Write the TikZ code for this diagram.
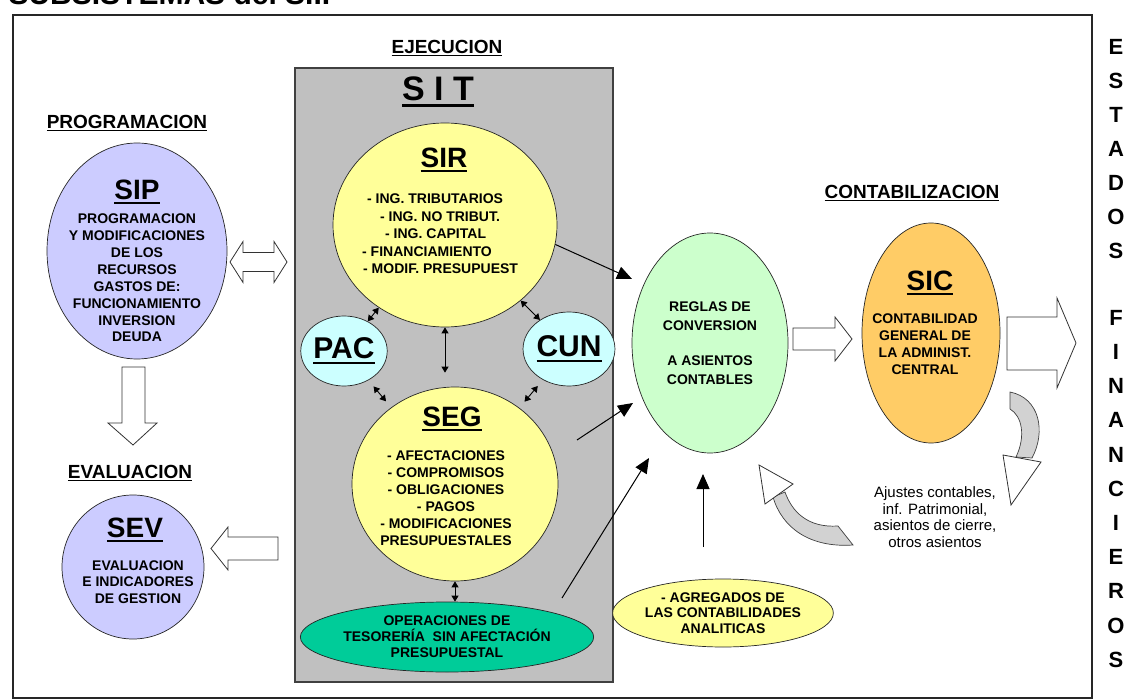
\documentclass[tikz,border=0pt]{standalone}
\usepackage{fontspec}
\setmainfont{Liberation Sans}
\usepackage{tikz}
\usetikzlibrary{shapes.geometric, arrows.meta, positioning}
\definecolor{sipBlue}{RGB}{204,204,255}
\definecolor{sirYellow}{RGB}{255,255,153}
\definecolor{pacCyan}{RGB}{204,255,255}
\definecolor{regGreen}{RGB}{204,255,204}
\definecolor{sicOrange}{RGB}{255,204,102}
\definecolor{operGreen}{RGB}{0,204,153}
\definecolor{sitGray}{RGB}{192,192,192}
\newcommand{\fsz}[2]{\fontsize{#1}{#2}\selectfont}
\newcommand{\ulx}[1]{\leavevmode\setbox0=\hbox{#1}\rlap{\rule[-0.17em]{\wd0}{0.08em}}\box0}

\begin{document}
\begin{tikzpicture}[
    x=1pt, y=-1pt,
    sub/.style={ellipse, draw=black!85, line width=0.7pt, inner sep=0pt},
    ttl/.style={font=\bfseries\fsz{28}{30}},
    txt/.style={font=\bfseries\fsz{14}{17}, align=center},
    head/.style={font=\bfseries\fsz{19}{21}},
    dbl/.style={{Triangle[length=6pt,width=7pt]}-{Triangle[length=6pt,width=7pt]}, line width=0.9pt},
    big/.style={-{Triangle[length=15pt,width=13pt]}, line width=1pt},
    hollow/.style={draw=black!80, fill=white, line width=0.8pt, line join=miter},
    curv/.style={draw=black!75, fill=gray!35, line width=0.7pt}
]
    \useasboundingbox (0,0) rectangle (1129,700);
    \node[font=\bfseries\fsz{30}{32}, anchor=base west] (title) at (5,5) {SUBSISTEMAS del SIIF};
    \draw[line width=1.6pt, black!85] (13,15) rectangle (1092,698);

    % headings
    \node[head] (prog) at (127,123) {\ulx{PROGRAMACION}};
    \node[head] (eval) at (130,473) {\ulx{EVALUACION}};
    \node[head] (ejec) at (447,48) {\ulx{EJECUCION}};
    \node[head] (cont) at (912,193) {\ulx{CONTABILIZACION}};

    % SIT
    \node[draw=black!75, fill=sitGray, line width=1.3pt, minimum width=318pt, minimum height=614pt, inner sep=0pt] (sit) at (454,375) {};
    \node[font=\bfseries\fsz{34}{36}] (sitT) at (438,92) {\ulx{S I T}};

    \node[sub, fill=sirYellow, minimum width=224pt, minimum height=204pt] (sir) at (445,225) {};
    \node[ttl] (sirT) at (444,160) {\ulx{SIR}};
    \node[font=\bfseries\fsz{14}{17.5}, align=left, anchor=west, inner sep=0pt] (sirL) at (362,234)
        {\hspace*{5pt}- ING. TRIBUTARIOS\\\hspace*{18pt}- ING. NO TRIBUT.\\\hspace*{23pt}- ING. CAPITAL\\- FINANCIAMIENTO\\\hspace*{1pt}- MODIF. PRESUPUEST};

    \node[sub, fill=pacCyan, minimum width=76pt, minimum height=70pt, font=\bfseries\fsz{30}{32}] (pac) at (344,351) {\ulx{PAC}};
    \node[sub, fill=pacCyan, minimum width=82pt, minimum height=74pt, font=\bfseries\fsz{30}{32}] (cun) at (569,349) {\ulx{CUN}};

    \node[sub, fill=sirYellow, minimum width=206pt, minimum height=194pt] (seg) at (455,484) {};
    \node[ttl] (segT) at (452,419) {\ulx{SEG}};
    \node[txt] (segL) at (446,498) {- AFECTACIONES\\- COMPROMISOS\\- OBLIGACIONES\\- PAGOS\\- MODIFICACIONES\\PRESUPUESTALES};

    \node[sub, txt, fill=operGreen, minimum width=232pt, minimum height=70pt, font=\bfseries\fsz{14}{16}] (oper) at (447,637)
        {OPERACIONES DE\\TESORERÍA\ \ SIN AFECTACIÓN\\PRESUPUESTAL};

    \draw[dbl] (sir) -- (pac);
    \draw[dbl] (sir) -- (cun);
    \draw[dbl, shorten <=8pt, shorten >=8pt] (seg) -- (pac);
    \draw[dbl, shorten <=8pt, shorten >=8pt] (seg) -- (cun);
    \draw[dbl, shorten >=14pt] (sir.south) -- (sir.south |- seg.north);
    \draw[dbl] (seg.south) -- (seg.south |- oper.north);

    % SIP / SEV
    \node[sub, fill=sipBlue, minimum width=180pt, minimum height=216pt] (sip) at (137,251) {};
    \node[ttl] (sipT) at (137,192) {\ulx{SIP}};
    \node[txt, font=\bfseries\fsz{14}{16.9}] (sipL) at (137,278) {PROGRAMACION\\Y MODIFICACIONES\\DE LOS\\RECURSOS\\GASTOS DE:\\FUNCIONAMIENTO\\INVERSION\\DEUDA};

    \node[sub, fill=sipBlue, minimum width=142pt, minimum height=144pt] (sev) at (133,567) {};
    \node[ttl] (sevT) at (135,530) {\ulx{SEV}};
    \node[txt, font=\bfseries\fsz{14}{16.5}] (sevL) at (138,582) {EVALUACION\\E INDICADORES\\DE GESTION};

    \draw[hollow] (230,262) -- (243,241.5) -- (243,252.5) -- (274,252.5) -- (274,241.5) -- (287,262)
        -- (274,282.5) -- (274,271.5) -- (243,271.5) -- (243,282.5) -- cycle;
    \draw[hollow] (122,367) -- (145,367) -- (145,423) -- (157,423) -- (133,445) -- (108,423) -- (122,423) -- cycle;
    \draw[hollow] (278,537) -- (228,537) -- (228,527) -- (211,548.5) -- (228,570) -- (228,560) -- (278,560) -- cycle;

    % contabilizacion
    \node[sub, txt, fill=regGreen, minimum width=156pt, minimum height=220pt, font=\bfseries\fsz{14}{18.5}] (reg) at (710,343)
        {REGLAS DE\\CONVERSION\\[17pt]A ASIENTOS\\CONTABLES};
    \node[sub, txt, fill=sirYellow, minimum width=204pt, minimum height=68pt, font=\bfseries\fsz{14}{15.5}] (agr) at (723,613)
        {- AGREGADOS DE\\LAS CONTABILIDADES\\ANALITICAS};

    \node[sub, fill=sicOrange, minimum width=138pt, minimum height=220pt] (sic) at (931,333) {};
    \node[ttl] (sicT) at (930,283) {\ulx{SIC}};
    \node[txt] (sicL) at (925,344) {CONTABILIDAD\\GENERAL DE\\LA ADMINIST.\\CENTRAL};

    \node[font=\fsz{15}{16.7}, align=center] (ajus) at (935,517) {Ajustes contables,\\inf. Patrimonial,\\asientos de cierre,\\otros asientos};

    \coordinate (r1) at (632,279);
    \coordinate (r2) at (633,403);
    \coordinate (r3) at (649,458);
    \coordinate (r4) at (703,474);
    \coordinate (s2) at (577,440);
    \coordinate (s3) at (562,598);
    \coordinate (a4) at (703,547);
    \draw[big] (sir.-10) -- (r1);
    \draw[big] (s2) -- (r2);
    \draw[big] (s3) -- (r3);
    \draw[big] (a4) -- (r4);

    \draw[hollow] (793,328) -- (835,328) -- (835,317) -- (852,339) -- (835,361) -- (835,350) -- (793,350) -- cycle;
    \draw[hollow] (1007,317) -- (1057,317) -- (1057,298) -- (1076,343) -- (1057,388) -- (1057,370) -- (1007,370) -- cycle;

    % curved arrows
    \draw[curv] (1010,392) .. controls (1040,398) and (1046,432) .. (1032,458) -- (1016,457)
        .. controls (1026,436) and (1022,416) .. (1010,409) -- cycle;
    \draw[hollow] (1041,462) -- (1011,505) -- (1003,455) -- cycle;
    \draw[curv] (853,545) -- (838,526) .. controls (808,528) and (792,512) .. (785,492) -- (773,497)
        .. controls (782,528) and (810,548) .. (853,545) -- cycle;
    \draw[hollow] (793,484) -- (759,465) -- (765,504) -- cycle;

    % estados financieros
    \foreach \ch/\yy in {E/47,S/81,T/115,A/149,D/183,O/217,S/251,F/318,I/352,N/386,A/420,N/455,C/489,I/523,E/557,R/591,O/626,S/660}
        \node[font=\bfseries\fsz{22}{24}] (ef\yy) at (1116,\yy) {\ch};
\end{tikzpicture}
\end{document}
